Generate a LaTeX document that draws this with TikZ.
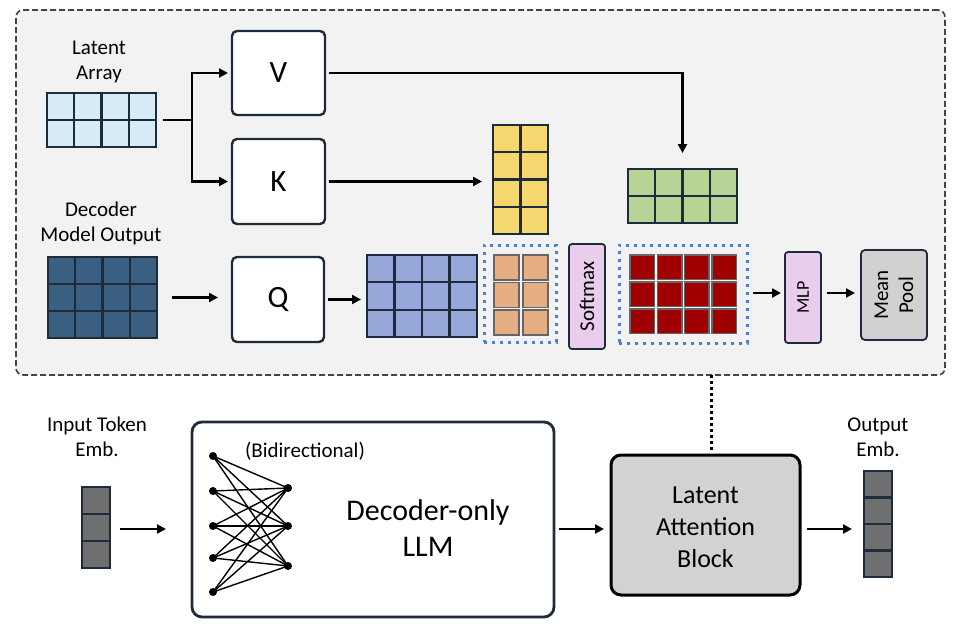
\documentclass[tikz,border=0pt]{standalone}
\usepackage{fontspec}
\setmainfont{Carlito}
\usetikzlibrary{arrows.meta}
\definecolor{panelbg}{HTML}{F2F2F2}
\definecolor{panelc}{HTML}{3A4654}
\definecolor{boxc}{HTML}{1E2B3A}
\definecolor{latentc}{HTML}{D6ECF8}
\definecolor{decc}{HTML}{3B5F80}
\definecolor{qc}{HTML}{96A8DA}
\definecolor{yellowc}{HTML}{F5D770}
\definecolor{greenc}{HTML}{B7D496}
\definecolor{orangec}{HTML}{E5AF83}
\definecolor{redc}{HTML}{A00000}
\definecolor{cellgray}{HTML}{666666}
\definecolor{dotc}{HTML}{4A7FD3}
\definecolor{pinkc}{HTML}{EACDEC}
\definecolor{meanc}{HTML}{D1D1D1}
\definecolor{vecc}{HTML}{6F6F6F}
\definecolor{labc}{HTML}{D2D2D2}
\newcommand{\mygrid}[8]{%
  \node[gridbox, fill=#8, minimum width=#4*#6, minimum height=#5*#7] (#1) at (#2,#3) {};
  \foreach \k in {1,...,#4} \draw[gridline] (#2+\k*#6,#3) -- (#2+\k*#6,#3+#5*#7);
  \foreach \k in {1,...,#5} \draw[gridline] (#2,#3+\k*#7) -- (#2+#4*#6,#3+\k*#7);
}
\begin{document}
\begin{tikzpicture}[x=1pt,y=-1pt,
  panel/.style={draw=panelc, fill=panelbg, dash pattern=on 6pt off 3pt, line width=1.6pt, rounded corners=7pt, inner sep=0, outer sep=0, anchor=north west},
  opbox/.style={draw=boxc, fill=white, line width=2.4pt, rounded corners=5pt, font=\fontsize{31}{36}\selectfont, inner sep=0, outer sep=0, anchor=north west},
  gridbox/.style={draw=boxc, line width=2.2pt, inner sep=0, outer sep=0, anchor=north west},
  gridline/.style={draw=boxc, line width=2.2pt},
  cellbox/.style={draw=cellgray, line width=1.6pt},
  dotbox/.style={draw=dotc, line width=3pt, dash pattern=on 3pt off 5pt, inner sep=0, outer sep=0, anchor=north west},
  arr/.style={-{Triangle[length=9pt,width=9pt]}, line width=2.2pt, draw=black},
  plainline/.style={line width=2.2pt, draw=black},
  lbl/.style={font=\fontsize{21}{25}\selectfont, align=center},
  slim/.style={draw=boxc, fill=pinkc, line width=1.8pt, rounded corners=3pt, inner sep=0, outer sep=0, anchor=north west},
  ndot/.style={circle, fill=black, inner sep=0, minimum size=8},
  netline/.style={line width=1.4pt, draw=black}
]
\useasboundingbox (0,0) rectangle (954,629);

% ---------- top panel ----------
\node[panel, minimum width=929, minimum height=365] (panel) at (16,10) {};

\node[lbl] (latlbl) at (99,62) {Latent\\Array};
\mygrid{latent}{47}{93}{4}{2}{27.25}{27}{latentc}

\node[lbl] (declbl) at (101,223) {Decoder\\Model Output};
\mygrid{dec}{48}{257}{4}{3}{27.25}{27}{decc}

\node[opbox, minimum width=93, minimum height=84] (V) at (232,31) {V};
\node[opbox, minimum width=93, minimum height=85] (K) at (232,139) {K};
\node[opbox, minimum width=92, minimum height=85] (Q) at (232,257) {Q};

\mygrid{qgrid}{367}{255}{4}{3}{27.5}{27.33}{qc}
\mygrid{yellow}{493}{125}{2}{4}{27.5}{27.25}{yellowc}
\mygrid{green}{628}{169}{4}{2}{27.25}{27}{greenc}

% orange scores
\node[dotbox, minimum width=72, minimum height=97] (dot1) at (484,245) {};
\foreach \i in {0,1} \foreach \j in {0,1,2}
  \draw[cellbox, fill=orangec] (494+\i*29,255+\j*27.5) rectangle ++(25,25);

\node[slim, minimum width=36, minimum height=105] (soft) at (569,244) {};
\node[rotate=90, font=\fontsize{21}{25}\selectfont] (softtxt) at (soft.center) {Softmax};

% red weights
\node[dotbox, minimum width=128, minimum height=98] (dot2) at (619,245) {};
\foreach \i in {0,...,3} \foreach \j in {0,1,2}
  \draw[cellbox, fill=redc] (630+\i*27.3,255+\j*27) rectangle ++(24.5,24.5);

\node[slim, minimum width=36, minimum height=91] (mlp) at (785,252) {};
\node[rotate=90, font=\fontsize{18}{22}\selectfont] (mlptxt) at (mlp.center) {MLP};

\node[slim, fill=meanc, rounded corners=4pt, minimum width=66, minimum height=90] (mean) at (861,250) {};
\node[rotate=90, font=\fontsize{21}{25}\selectfont, align=center] (meantxt) at (mean.center) {Mean\\Pool};

% top connectors
\coordinate (br) at (192,120);
\draw[plainline, shorten <=7pt] (latent.east) -- (br);
\draw[arr, shorten >=4pt] (br) |- (V.west);
\draw[arr, shorten >=4pt] (br) |- (K.west);
\draw[arr, shorten <=4pt, shorten >=16pt] (V.east) -| (green.north);
\draw[arr, shorten <=4pt, shorten >=11pt] (K.east) -- (K.east -| yellow.west);
\draw[arr, shorten <=15pt, shorten >=14pt] (dec.east) -- (dec.east -| Q.west);
\draw[arr, shorten <=4pt, shorten >=6pt] (Q.east) -- (Q.east -| qgrid.west);
\draw[arr, shorten <=6pt, shorten >=4pt] (dot2.east |- 0,293) -- (mlp.west |- 0,293);
\draw[arr, shorten <=6pt, shorten >=6pt] (mlp.east |- 0,293) -- (mean.west |- 0,293);

% ---------- bottom row ----------
\node[lbl] (inlbl) at (97,437) {Input Token\\Emb.};
\mygrid{invec}{82}{487}{1}{3}{28}{27}{vecc}

\node[draw=boxc, fill=white, line width=2.8pt, rounded corners=10pt, inner sep=0, outer sep=0, anchor=north west, minimum width=362, minimum height=195] (llm) at (192,422) {};
\node[font=\fontsize{21}{25}\selectfont] (bidir) at (305,451) {(Bidirectional)};
\node[font=\fontsize{30}{36}\selectfont, align=center] (llmtxt) at (428,528) {Decoder-only\\LLM};

\foreach \n/\yy in {1/456,2/491,3/526,4/558,5/592} \node[ndot] (a\n) at (213,\yy) {};
\foreach \n/\yy in {1/488,2/526,3/566} \node[ndot] (b\n) at (288,\yy) {};
\foreach \p in {1,...,5} \foreach \q in {1,2,3} \draw[netline] (a\p.center) -- (b\q.center);

\node[draw=black, fill=labc, line width=3pt, rounded corners=10pt, inner sep=0, outer sep=0, anchor=north west, minimum width=189, minimum height=140] (lab) at (611,455) {};
\node[font=\fontsize{26}{32}\selectfont, align=center] (labtxt) at ([yshift=-2pt]lab.center) {Latent\\Attention\\Block};

\node[lbl] (outlbl) at (878,437) {Output\\Emb.};
\mygrid{outvec}{864}{471}{1}{4}{28}{26.5}{vecc}

\draw[arr, shorten <=10pt, shorten >=26pt] (invec.east |- 0,529) -- (llm.west |- 0,529);
\draw[arr, shorten <=5pt, shorten >=7pt] (llm.east |- 0,529) -- (lab.west |- 0,529);
\draw[arr, shorten <=7pt, shorten >=12pt] (lab.east |- 0,529) -- (outvec.west |- 0,529);

\coordinate (dtop) at (711,375);
\coordinate (dbot) at (711,450);
\draw[line width=3pt, dash pattern=on 3pt off 3pt, draw=black] (dtop) -- (dbot);
\end{tikzpicture}
\end{document}
